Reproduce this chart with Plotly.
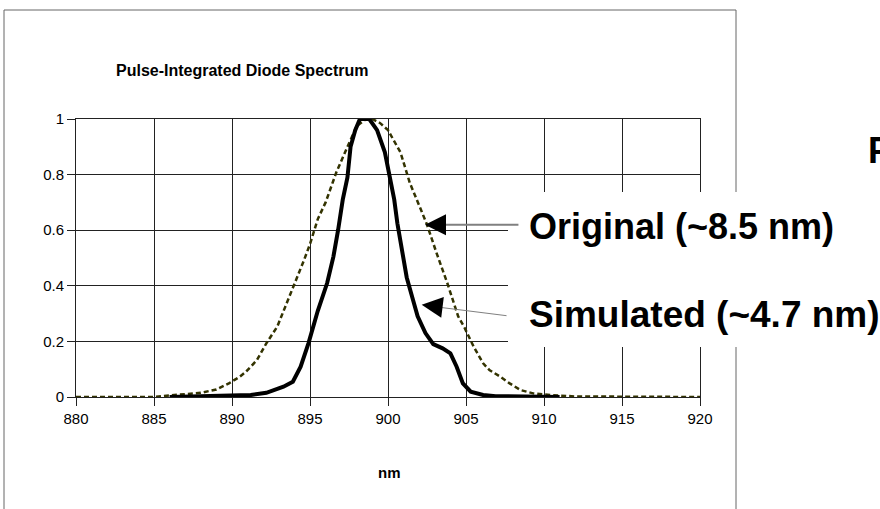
import plotly.graph_objects as go

# ---- data ----
orig_nm = [880, 885, 886.3, 888.0, 889.0, 889.8, 890.5, 890.9, 891.6, 892.2, 892.9, 893.5,
           894.0, 894.6, 895.0, 895.5, 896.0, 896.7, 897.4, 898.0, 898.6, 899.0, 899.5,
           900.0, 900.8, 901.4, 902.1, 902.5, 903.1, 903.8, 904.5, 904.9, 905.5, 906.1,
           906.5, 907.2, 907.8, 908.5, 909.3, 910.4, 912, 920]
orig_val = [0, 0, 0.007, 0.015, 0.027, 0.049, 0.073, 0.091, 0.133, 0.193, 0.253, 0.337,
            0.40, 0.49, 0.55, 0.64, 0.70, 0.81, 0.90, 0.975, 1.0, 1.0, 0.985,
            0.96, 0.88, 0.77, 0.675, 0.62, 0.52, 0.41, 0.29, 0.25, 0.18, 0.121,
            0.097, 0.073, 0.049, 0.025, 0.013, 0.007, 0.002, 0]

sim_nm = [886, 890.1, 891.2, 892.2, 893.3, 893.9, 894.4, 894.9, 895.5, 896.1, 896.5, 896.8,
          897.1, 897.4, 897.6, 897.9, 898.2, 898.8, 899.3, 899.8, 900.1, 900.4, 900.6,
          900.9, 901.2, 901.6, 901.9, 902.4, 902.9, 903.5, 904.0, 904.4, 904.8, 905.3,
          906.1, 906.9, 911]
sim_val = [0, 0.004, 0.007, 0.015, 0.037, 0.055, 0.109, 0.193, 0.31, 0.41, 0.505, 0.60,
           0.71, 0.79, 0.90, 0.96, 1.0, 1.0, 0.96, 0.88, 0.79, 0.71, 0.625,
           0.53, 0.43, 0.35, 0.29, 0.23, 0.19, 0.175, 0.157, 0.109, 0.049, 0.019,
           0.007, 0.003, 0]

x_ticks = [880, 885, 890, 895, 900, 905, 910, 915, 920]
y_ticks = [0, 0.2, 0.4, 0.6, 0.8, 1]
y_tick_labels = ["0", "0.2", "0.4", "0.6", "0.8", "1"]

title_text = "Pulse-Integrated Diode Spectrum"
x_title = "nm"
label_orig = "Original (~8.5 nm)"
label_sim = "Simulated (~4.7 nm)"
stray_text = "P"

# ---- layout geometry (pixels) ----
W, H = 880, 509
L, R, T, B = 76, 180, 119, 112
PW, PH = W - L - R, H - T - B


def px(xp):
    return (xp - L) / PW


def py(yp):
    return (H - B - yp) / PH


FONT = "Arial, Liberation Sans, sans-serif"

fig = go.Figure()
fig.add_trace(go.Scatter(x=orig_nm, y=orig_val, mode="lines", name=label_orig,
                         line=dict(color="#333300", width=2.5, dash="5px,3px")))
fig.add_trace(go.Scatter(x=sim_nm, y=sim_val, mode="lines", name=label_sim,
                         line=dict(color="#000000", width=4)))

shapes = [
    # outer chart frame
    dict(type="rect", xref="paper", yref="paper", x0=px(4), x1=px(736), y0=py(10), y1=py(530),
         line=dict(color="#666666", width=1), fillcolor="rgba(0,0,0,0)", layer="above"),
    # white box behind the labels
    dict(type="rect", xref="paper", yref="paper", x0=px(508), x1=px(900), y0=py(192), y1=py(347),
         line=dict(width=0), fillcolor="white", layer="above"),
]

annotations = [
    dict(text="<b>%s</b>" % title_text, xref="paper", yref="paper", x=px(242), y=py(70),
         xanchor="center", yanchor="middle", showarrow=False,
         font=dict(family=FONT, size=16, color="black")),
    dict(text="<b>%s</b>" % x_title, xref="paper", yref="paper", x=px(389), y=py(472),
         xanchor="center", yanchor="middle", showarrow=False,
         font=dict(family=FONT, size=15, color="black")),
    dict(text="<b>%s</b>" % label_orig, xref="paper", yref="paper", x=px(527), y=py(226),
         xanchor="left", yanchor="middle", showarrow=False,
         font=dict(family=FONT, size=36, color="black")),
    dict(text="<b>%s</b>" % label_sim, xref="paper", yref="paper", x=px(527), y=py(314),
         xanchor="left", yanchor="middle", showarrow=False,
         font=dict(family=FONT, size=37, color="black")),
    dict(text="<b>%s</b>" % stray_text, xref="paper", yref="paper", x=px(866), y=py(150),
         xanchor="left", yanchor="middle", showarrow=False,
         font=dict(family=FONT, size=36, color="black")),
    # gray arrow shafts
    dict(text="", x=903.65, y=0.62, xref="x", yref="y", showarrow=True, arrowhead=0,
         ax=75, ay=0, arrowwidth=2, arrowcolor="#808080", standoff=0),
    dict(text="", x=903.4, y=0.322, xref="x", yref="y", showarrow=True, arrowhead=0,
         ax=67, ay=8.4, arrowwidth=1, arrowcolor="#808080", standoff=0),
    # black arrow heads
    dict(text="", x=902.37, y=0.62, xref="x", yref="y", showarrow=True, arrowhead=2,
         arrowsize=4.2, arrowwidth=1, ax=16, ay=0, arrowcolor="black", standoff=0),
    dict(text="", x=902.16, y=0.3315, xref="x", yref="y", showarrow=True, arrowhead=2,
         arrowsize=4.2, arrowwidth=1, ax=16, ay=2, arrowcolor="black", standoff=0),
]

fig.update_layout(
    width=W, height=H,
    margin=dict(l=L, r=R, t=T, b=B, pad=0),
    paper_bgcolor="white", plot_bgcolor="white",
    showlegend=False,
    shapes=shapes, annotations=annotations,
    font=dict(family=FONT, size=15, color="black"),
    xaxis=dict(range=[880, 920], tickvals=x_ticks, ticktext=[str(v) for v in x_ticks],
               showgrid=True, gridcolor="#222222", gridwidth=1, zeroline=False,
               showline=True, linecolor="#222222", linewidth=1, mirror=True,
               ticks="outside", ticklen=8, tickcolor="#222222",
               tickfont=dict(family=FONT, size=15)),
    yaxis=dict(range=[0, 1], tickvals=y_ticks, ticktext=y_tick_labels,
               showgrid=True, gridcolor="#222222", gridwidth=1, zeroline=False,
               showline=True, linecolor="#222222", linewidth=1, mirror=True,
               ticks="outside", ticklen=8, tickcolor="#222222",
               tickfont=dict(family=FONT, size=15)),
)

fig.write_html("out.html")
